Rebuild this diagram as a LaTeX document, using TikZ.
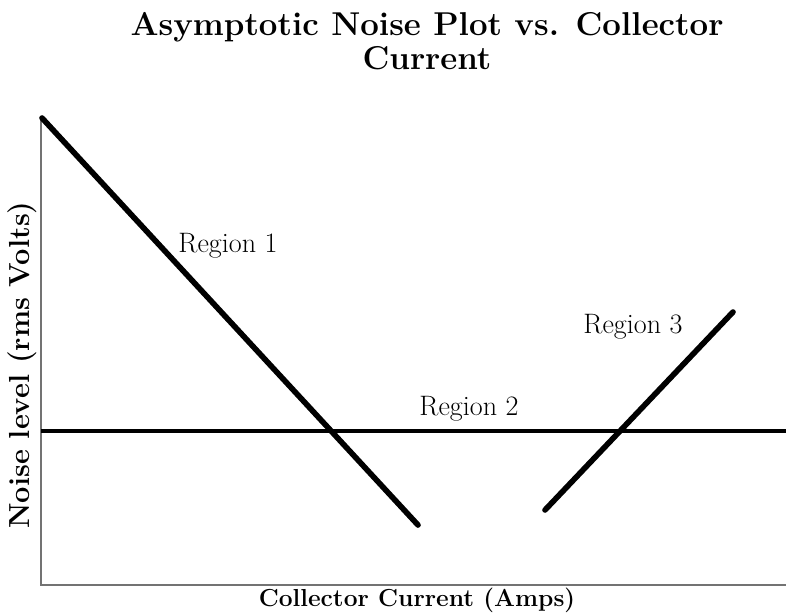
\documentclass[tikz,border=0pt]{standalone}
\usepackage{tikz}
\usetikzlibrary{positioning}

\begin{document}
\begin{tikzpicture}[
    x=0.02cm, y=-0.02cm,
    axis/.style={line width=0.6pt, black!55},
    asym/.style={line width=3.2pt, black, line cap=round},
    flat/.style={line width=1.8pt, black},
    reglbl/.style={font=\fontsize{16}{18}\selectfont, inner sep=0pt},
    axlbl/.style={font=\fontsize{#1}{16}\selectfont\bfseries, inner sep=0pt},
    axlbl/.default={14},
]
\useasboundingbox (0,0) rectangle (786,615);

% ===== Title =====
\node[font=\fontsize{18.8}{19.3}\selectfont\bfseries, align=center,
      inner sep=0pt, anchor=north] (title) at (427,12)
      {Asymptotic Noise Plot vs. Collector\\Current};

% ===== Axes (thin, grey) =====
\coordinate (ytop) at (41,118);
\coordinate (orig) at (41,585);
\coordinate (xend) at (786,585);
\draw[axis] (ytop) -- (orig) -- (xend);

% ===== Asymptotes =====
\coordinate (r1a) at (42,118);
\coordinate (r1b) at (418,525);
\coordinate (r2a) at (41,431);
\coordinate (r2b) at (786,431);
\coordinate (r3a) at (545,510);
\coordinate (r3b) at (733,312);
\draw[asym] (r1a) -- (r1b);
\draw[flat] (r2a) -- (r2b);
\draw[asym] (r3a) -- (r3b);

% ===== Region labels =====
\node[reglbl] (reg1) at (228,246) {Region 1};
\node[reglbl] (reg2) at (469,409) {Region 2};
\node[reglbl] (reg3) at (633,327) {Region 3};

% ===== Axis labels =====
\node[axlbl=16.5, rotate=90] (ylbl) at (22,365) {Noise level (rms Volts)};
\node[axlbl] (xlbl) at (417,600) {Collector Current (Amps)};

\end{tikzpicture}
\end{document}
